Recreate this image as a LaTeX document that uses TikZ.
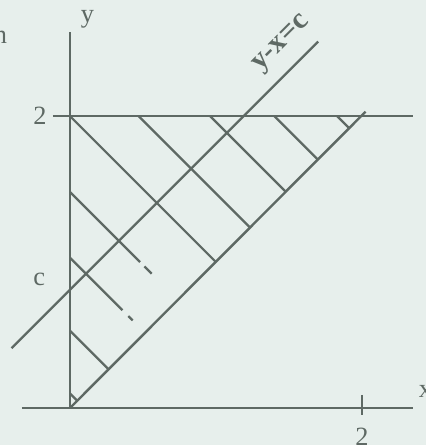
\documentclass[tikz,border=0pt]{standalone}
\usepackage{fontspec}
\setmainfont{Liberation Serif}
\definecolor{bg}{HTML}{E7EFEC}
\definecolor{ink}{HTML}{5E6964}
\tikzset{
  axisline/.style={line width=1.1pt, draw=ink},
  hatch/.style={line width=1pt, draw=ink},
  lbl/.style={text=ink, inner sep=0pt, font=\fontsize{12}{14}\selectfont},
}
\begin{document}
\begin{tikzpicture}[x=2.336cm,y=2.336cm]
\fill[bg] (-0.479,-0.253) rectangle (2.438,2.795);
\useasboundingbox (-0.479,-0.253) rectangle (2.438,2.795);
\clip (-0.479,-0.253) rectangle (2.438,2.795);
% coordinates
\coordinate (O) at (0,0);
\coordinate (xs) at (-0.33,0);
\coordinate (xe) at (2.35,0);
\coordinate (ye) at (0,2.575);
\coordinate (ts) at (-0.116,2);
\coordinate (te) at (2.35,2);
\coordinate (de) at (2.025,2.03);
\coordinate (cs) at (-0.40,0.41);
\coordinate (ce) at (1.70,2.51);
\coordinate (tk1) at (2,0.09);
\coordinate (tk2) at (2,-0.05);
% axes and boundary lines
\draw[axisline] (xs) -- (xe);
\draw[axisline] (O) -- (ye);
\draw[axisline] (ts) -- (te);
\draw[axisline] (O) -- (de);
\draw[axisline] (cs) -- (ce);
\draw[axisline] (tk1) -- (tk2);
% hatch lines (x + y = k)
\coordinate (h1s) at (0,0.10);   \coordinate (h1e) at (0.05,0.05);
\coordinate (h2s) at (0,0.53);   \coordinate (h2e) at (0.265,0.265);
\coordinate (h3s) at (0,1.03);   \coordinate (h3m) at (0.36,0.67);
\coordinate (h3a) at (0.40,0.63); \coordinate (h3b) at (0.43,0.60);
\coordinate (h4s) at (0,1.48);   \coordinate (h4m) at (0.48,1.00);
\coordinate (h4a) at (0.51,0.97); \coordinate (h4b) at (0.56,0.92);
\coordinate (h5s) at (0,2);      \coordinate (h5e) at (1,1);
\coordinate (h6s) at (0.47,2);   \coordinate (h6e) at (1.235,1.235);
\coordinate (h7s) at (0.96,2);   \coordinate (h7e) at (1.48,1.48);
\coordinate (h8s) at (1.40,2);   \coordinate (h8e) at (1.70,1.70);
\coordinate (h9s) at (1.83,2);   \coordinate (h9e) at (1.915,1.915);
\draw[hatch] (h1s) -- (h1e);
\draw[hatch] (h2s) -- (h2e);
\draw[hatch] (h3s) -- (h3m);
\draw[hatch] (h3a) -- (h3b);
\draw[hatch] (h4s) -- (h4m);
\draw[hatch] (h4a) -- (h4b);
\draw[hatch] (h5s) -- (h5e);
\draw[hatch] (h6s) -- (h6e);
\draw[hatch] (h7s) -- (h7e);
\draw[hatch] (h8s) -- (h8e);
\draw[hatch] (h9s) -- (h9e);
% labels
\node[lbl] (l2y) at (-0.205,2) {2};
\node[lbl] (lc) at (-0.21,0.88) {c};
\node[lbl] (ly) at (0.12,2.66) {y};
\node[lbl] (l2x) at (2,-0.2) {2};
\node[lbl] (lx) at (2.435,0.116) {x};
\node[lbl] (ln) at (-0.476,2.54) {n};
\node[lbl, font=\fontsize{13.5}{15}\selectfont\bfseries, rotate=45] (lline) at (1.455,2.49) {y-x=c};
\end{tikzpicture}
\end{document}
